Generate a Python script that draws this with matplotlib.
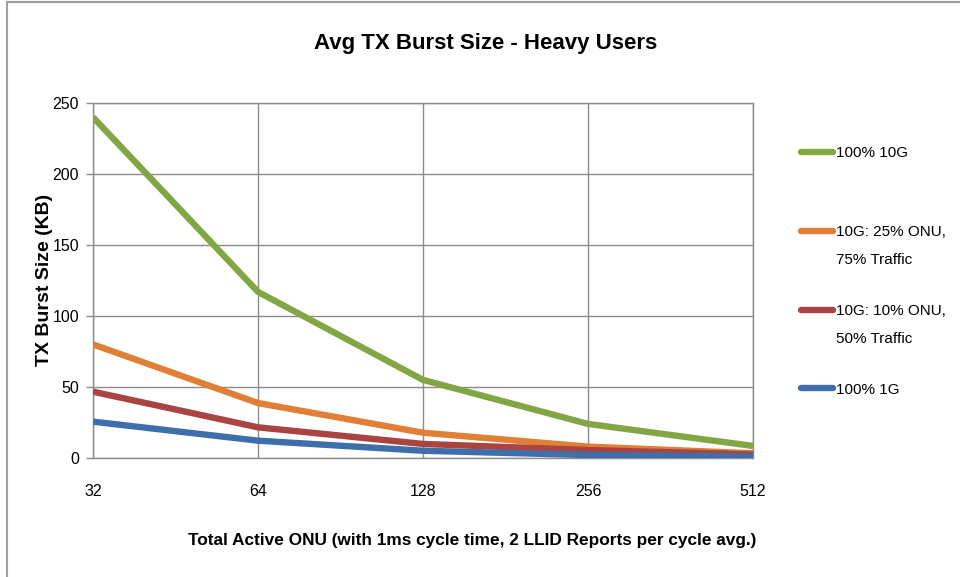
import matplotlib
matplotlib.use("Agg")
import matplotlib.pyplot as plt
from matplotlib.lines import Line2D

plt.rcParams['font.family'] = ['Liberation Sans', 'DejaVu Sans']

categories = ["32", "64", "128", "256", "512"]
series_names = ["100% 10G", "10G: 25% ONU,\n75% Traffic", "10G: 10% ONU,\n50% Traffic", "100% 1G"]
green_10g = [240, 117, 55, 24, 8.5]
orange_25 = [80, 38.7, 17.8, 8, 3.3]
red_10 = [46.7, 21.6, 9.9, 5.6, 2.5]
blue_1g = [25.6, 12.2, 5.1, 2.1, 1.0]
colors = ["#83a645", "#e07f35", "#a94442", "#3f6faa"]
yticks = [0, 50, 100, 150, 200, 250]

fig = plt.figure(figsize=(9.6, 5.77), dpi=100)
ax = fig.add_axes([93/960, 1-458/577, (753-93)/960, (458-103)/577])

x = list(range(len(categories)))
all_series = [green_10g, orange_25, red_10, blue_1g]
for vals, c in zip(all_series, colors):
    ax.plot(x, vals, color=c, lw=4.6, solid_capstyle='butt', solid_joinstyle='miter', zorder=3)

ax.set_xlim(0, 4)
ax.set_ylim(0, 250)
ax.set_xticks(x)
ax.set_xticklabels(categories)
ax.set_yticks(yticks)
ax.grid(True, color="#8c8c8c", lw=1.0, zorder=0)
for s in ax.spines.values():
    s.set_color("#8c8c8c")
    s.set_linewidth(1.0)
ax.tick_params(axis='both', colors="#8c8c8c", labelcolor="#000000", labelsize=11.5, length=5, width=1)
ax.tick_params(axis='x', pad=19, length=0)
ax.tick_params(axis='y', pad=5)

fig.text(486/960, 1-43/577, "Avg TX Burst Size - Heavy Users", ha='center', va='center',
         fontsize=16, fontweight='bold')
fig.text(472/960, 1-540/577, "Total Active ONU (with 1ms cycle time, 2 LLID Reports per cycle avg.)",
         ha='center', va='center', fontsize=12.4, fontweight='bold')
fig.text(45/960, 1-280/577, "TX Burst Size (KB)", ha='center', va='center', rotation=90,
         fontsize=14, fontweight='bold')

first_lines = [n.split("\n")[0] for n in series_names]
handles = [Line2D([0], [0], color=c, lw=4.6, solid_capstyle='round') for c in colors]
leg = fig.legend(handles, first_lines, loc='upper left', bbox_to_anchor=(801/960, 1-146/577),
                 frameon=False, fontsize=11, handlelength=2.1, handletextpad=0.2,
                 labelspacing=4.25, borderpad=0, borderaxespad=0)
fig.canvas.draw()
r = fig.canvas.get_renderer()
for t, n in zip(leg.get_texts(), series_names):
    parts = n.split("\n")
    if len(parts) > 1:
        bb = t.get_window_extent(r)
        fig.text(bb.x0/960, (bb.y0 - 14)/577, parts[1], ha='left', va='top', fontsize=11)

fig.add_artist(Line2D([7/960, 7/960], [0, 1-2/577], color="#a0a0a0", lw=1.5, transform=fig.transFigure))
fig.add_artist(Line2D([7/960, 1], [1-2/577, 1-2/577], color="#a0a0a0", lw=1.5, transform=fig.transFigure))

fig.savefig("out.png", dpi=100)
